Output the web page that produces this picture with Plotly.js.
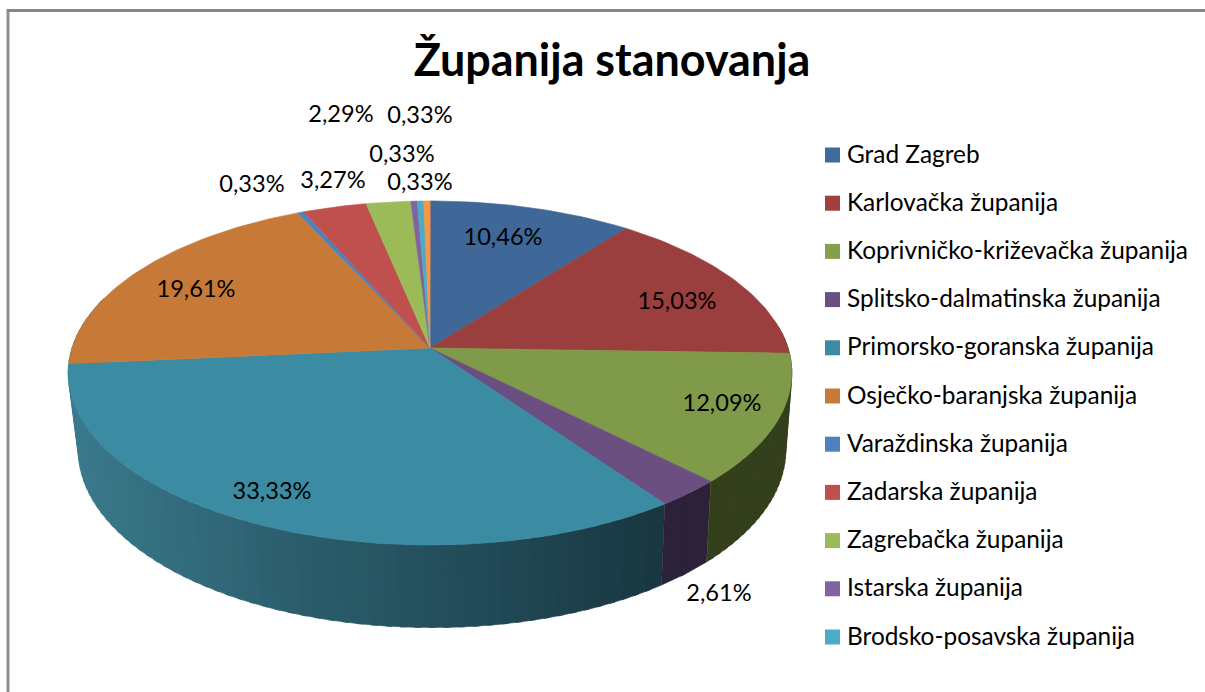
<!DOCTYPE html>
<html>
<head>
<meta charset="utf-8">
<script src="https://cdn.plot.ly/plotly-3.0.1.min.js"></script>
<style>html,body{margin:0;padding:0;background:#fff;overflow:hidden}#chart{width:1205px;height:692px}</style>
</head>
<body>
<div id="chart"></div>
<script>
const chartTitle = 'Županija stanovanja';
const categories = ['Grad Zagreb','Karlovačka županija','Koprivničko-križevačka županija','Splitsko-dalmatinska županija','Primorsko-goranska županija','Osječko-baranjska županija','Varaždinska županija','Zadarska županija','Zagrebačka županija','Istarska županija','Brodsko-posavska županija'];
const values = [10.46,15.03,12.09,2.61,33.33,19.61,0.33,3.27,2.29,0.33,0.33,0.33];
const topColors = ['#3f6797','#9a3f3d','#7f9a48','#6a4f80','#3b8ba3','#c77a37','#4f81bd','#c0504d','#9bbb59','#8064a2','#4bacc6','#f79646'];
const legendColors = ['#3f6a9e','#a03f3d','#83a04a','#6a4f85','#3b8ba3','#c77a37','#4f81bd','#c0504d','#9bbb59','#8064a2','#4bacc6'];
const wallColors = {2:'#343f1c',3:'#2b2138'};
const labelX = [503,677,722,719,272,196,252,333,341,402,420,420];
const labelY = [239,303,405,595,493,291,186,182,116,156,117,184];

const KT = 0.1453, AT = 168.4, BT = 358, CX = 430, CYT = 348;
const AB = 174, BB = 350, CXB = 432, CYB = 424;
function topPt(p){const a=p/100*2*Math.PI,u=Math.sin(a),v=Math.cos(a),d=1+KT*v;return [CX+BT*u/d,CYT-AT*v/d];}
function botPt(p){const a=p/100*2*Math.PI,u=Math.sin(a),v=Math.cos(a),d=1+KT*v;return [CXB+BB*u/d,CYB-AB*v/d];}
function lerp(a,b,t){return Math.round(a+(b-a)*t);}
function tealAt(x){
  const stops=[[70,[58,122,140]],[300,[43,93,108]],[480,[34,75,88]],[670,[24,54,64]]];
  for(let i=0;i<stops.length-1;i++){
    if(x<=stops[i+1][0]){
      const t=Math.max(0,(x-stops[i][0])/(stops[i+1][0]-stops[i][0]));
      return 'rgb('+[0,1,2].map(k=>lerp(stops[i][1][k],stops[i+1][1][k],t)).join(',')+')';
    }
  }
  return 'rgb(24,54,64)';
}
function poly(xs,ys,color,name){
  return {type:'scatter',mode:'lines',x:xs,y:ys,fill:'toself',fillcolor:color,line:{color:color,width:0.6},hoverinfo:name?'text':'skip',text:name||'',showlegend:false};
}

const traces = [];
let start = 0;
const bounds = values.map(v=>{const s=start;start+=v;return [s,start];});
// side wall: drawn from the far end forwards so each strip overlaps the seam of the last
function wall(lo,hi,n,colorFn){
  for(let s=n-1;s>=0;s--){
    const p0=lo+(hi-lo)*s/n,p1=lo+(hi-lo)*(s+1)/n+(s<n-1?0.25:0),xs=[],ys=[],m=4;
    for(let j=0;j<=m;j++){const q=topPt(p0+(p1-p0)*j/m);xs.push(q[0]);ys.push(q[1]);}
    for(let j=m;j>=0;j--){const q=botPt(p0+(p1-p0)*j/m);xs.push(q[0]);ys.push(q[1]);}
    traces.push(poly(xs,ys,colorFn((p0+p1)/2)));
  }
}
wall(bounds[4][0],80,70,p=>tealAt(topPt(p)[0]));
wall(bounds[3][0],bounds[3][1],2,()=>wallColors[3]);
wall(23,bounds[2][1],30,()=>wallColors[2]);
// top face
bounds.forEach((b,i)=>{
  const xs=[CX],ys=[CYT],m=Math.max(3,Math.ceil((b[1]-b[0])*3));
  for(let j=0;j<=m;j++){const q=topPt(b[0]+(b[1]-b[0])*j/m);xs.push(q[0]);ys.push(q[1]);}
  xs.push(CX);ys.push(CYT);
  traces.push(poly(xs,ys,topColors[i],categories[i]||''));
});
// data labels
traces.push({type:'scatter',mode:'text',x:labelX,y:labelY,text:values.map(v=>v.toFixed(2).replace('.',',')+'%'),
  textposition:'middle center',textfont:{family:'Lato, Carlito, sans-serif',size:23.6,color:'#000'},hoverinfo:'skip',showlegend:false});
// legend
const legendY = categories.map((c,i)=>155+i*48.2);
traces.push({type:'scatter',mode:'markers',x:categories.map(()=>832.5),y:legendY,
  marker:{symbol:'square',size:15,color:legendColors,line:{width:0}},hoverinfo:'skip',showlegend:false});
traces.push({type:'scatter',mode:'text',x:categories.map(()=>847),y:legendY.map(y=>y+1.5),text:categories,
  textposition:'middle right',textfont:{family:'Lato, Carlito, sans-serif',size:24.4,color:'#000'},hoverinfo:'skip',showlegend:false});

const layout = {
  width:1205,height:692,margin:{l:0,r:0,t:0,b:0,pad:0},paper_bgcolor:'#fff',plot_bgcolor:'#fff',showlegend:false,
  title:{text:'<b>'+chartTitle+'</b>',font:{family:'Lato, Carlito, sans-serif',size:44.9,color:'#000'},x:612/1205,xanchor:'center',xref:'container',y:1-60/692,yanchor:'middle',yref:'container'},
  xaxis:{range:[0,1205],visible:false,fixedrange:true},
  yaxis:{range:[692,0],visible:false,fixedrange:true},
  shapes:[
    {type:'line',xref:'x',yref:'y',x0:8,x1:8,y0:9,y1:692,line:{color:'#8e8e8e',width:3}},
    {type:'line',xref:'x',yref:'y',x0:7,x1:1205,y0:10.5,y1:10.5,line:{color:'#868686',width:3}}
  ]
};
Plotly.newPlot('chart',traces,layout,{displayModeBar:false,staticPlot:true});
</script>
</body>
</html>
